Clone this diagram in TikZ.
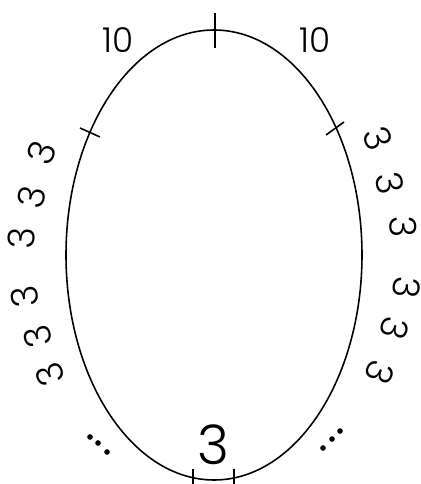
\documentclass[tikz,border=0pt]{standalone}
\usepackage{fontspec}
\setmainfont{Poppins Light}
\usepackage{tikz}
\tikzset{
  rim/.style={draw=black, line width=0.9pt},
  tickmark/.style={draw=black, line width=0.9pt},
  tenlbl/.style={font=\fontsize{19.5}{22}\selectfont, inner sep=0pt},
  threelbl/.style={font=\fontsize{21}{22}\selectfont, inner sep=0pt, rotate=#1},
  threelbl/.default=90,
  bigthree/.style={font=\fontsize{31}{34}\selectfont, inner sep=0pt},
  dotmark/.style={circle, fill=black, inner sep=0pt, minimum size=3.2pt},
}

\begin{document}
\begin{tikzpicture}[x=0.02cm, y=0.02cm]
    \useasboundingbox (0,0) rectangle (421,484);
    \draw[rim] (214,229) ellipse [x radius=148, y radius=225];

    % tick marks across the rim
    \coordinate (topA) at (215,471);
    \coordinate (topB) at (215,436);
    \coordinate (leftA) at (80,356);
    \coordinate (leftB) at (100,347);
    \coordinate (rightA) at (326,349);
    \coordinate (rightB) at (344,362);
    \coordinate (botlA) at (193,15);
    \coordinate (botlB) at (193,-6);
    \coordinate (botrA) at (234,15);
    \coordinate (botrB) at (234,-6);
    \draw[tickmark] (topA) -- (topB);
    \draw[tickmark] (leftA) -- (leftB);
    \draw[tickmark] (rightA) -- (rightB);
    \draw[tickmark] (botlA) -- (botlB);
    \draw[tickmark] (botrA) -- (botrB);

    \node[tenlbl] (tenL) at (118,444) {10};
    \node[tenlbl] (tenR) at (315,444) {10};
    \node[bigthree] (threeB) at (213,39) {3};

    % left side, bumps pointing up
    \foreach \px/\py/\rot [count=\i] in {42/331/70, 32/287/78, 22/246/88,
                                       25/187/98, 38/147/105, 50/109/112}
      \node[threelbl=\rot] (threeL\i) at (\px,\py) {3};
    % right side, bumps pointing down
    \foreach \px/\py/\rot [count=\i] in {378/346/-68, 390/301/-78, 403/257/-88,
                                       407/196/-96, 395/156/-105, 380/111/-112}
      \node[threelbl=\rot] (threeR\i) at (\px,\py) {3};

    \foreach \px/\py [count=\i] in {90/47, 98/41, 107/32}
      \node[dotmark] (dotL\i) at (\px,\py) {};
    \foreach \px/\py [count=\i] in {323/36, 332/45, 340/53}
      \node[dotmark] (dotR\i) at (\px,\py) {};
\end{tikzpicture}
\end{document}
